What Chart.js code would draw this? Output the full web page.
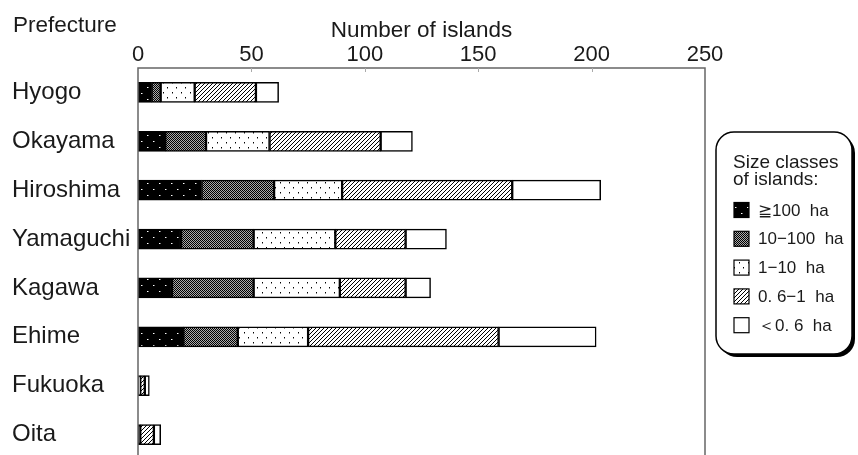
<!DOCTYPE html>
<html>
<head>
<meta charset="utf-8">
<script src="https://cdn.jsdelivr.net/npm/chart.js@4/dist/chart.umd.min.js"></script>
<style>
    html, body { margin: 0; padding: 0; background: #fff; overflow: hidden; }
    #wrap { position: relative; width: 858px; height: 459px; }
</style>
</head>
<body>
<div id="wrap"><canvas id="islands-chart"></canvas></div>
<script>
// Number of islands by prefecture and size class
const prefectures = ['Hyogo', 'Okayama', 'Hiroshima', 'Yamaguchi', 'Kagawa', 'Ehime', 'Fukuoka', 'Oita'];
const over100ha = [6, 12, 28, 19, 15, 20, 0, 1];
const from10to100ha = [4, 18, 32, 32, 36, 24, 0, 0];
const from1to10ha = [15, 28, 30, 36, 38, 31, 1, 0];
const from06to1ha = [27, 49, 75, 31, 29, 84, 2, 6];
const under06ha = [10, 14, 39, 18, 11, 43, 2, 3];
const sizeLabels = ['≧100  ha', '10−100  ha', '1−10  ha', '0. 6−1  ha', '＜0. 6  ha'];
const xTicks = [0, 50, 100, 150, 200, 250];

const FONT = '"Liberation Sans", Arial, sans-serif';
const TEXT = '#1a1a1a';

// Fill patterns for the size classes (black/white print style)
function makePattern(kind) {
    const c = document.createElement('canvas');
    const g = c.getContext('2d');
    if (kind === 'black') {
        c.width = 12; c.height = 12;
        g.fillStyle = '#000'; g.fillRect(0, 0, 12, 12);
        g.fillStyle = '#fff';
        g.fillRect(3, 3, 1, 1);
        g.fillRect(9, 9, 1, 1);
        g.fillStyle = '#777';
        g.fillRect(4, 3, 1, 1);
        g.fillRect(10, 9, 1, 1);
    } else if (kind === 'gray') {
        c.width = 2; c.height = 2;
        g.fillStyle = '#aaa'; g.fillRect(0, 0, 2, 2);
        g.fillStyle = '#000';
        g.fillRect(0, 0, 1, 1);
        g.fillRect(1, 1, 1, 1);
    } else if (kind === 'dots') {
        c.width = 9; c.height = 10;
        g.fillStyle = '#fff'; g.fillRect(0, 0, 9, 10);
        g.fillStyle = '#000';
        g.fillRect(1, 2, 1, 1);
        g.fillRect(5, 7, 1, 1);
        g.fillStyle = '#888';
        g.fillRect(1, 3, 1, 1);
        g.fillRect(5, 8, 1, 1);
    } else if (kind === 'hatch') {
        c.width = 4; c.height = 4;
        g.fillStyle = '#fff'; g.fillRect(0, 0, 4, 4);
        g.fillStyle = '#000';
        for (let i = 0; i < 4; i++) g.fillRect(i, 3 - i, 1, 1);
    } else {
        c.width = 1; c.height = 1;
        g.fillStyle = '#fff'; g.fillRect(0, 0, 1, 1);
    }
    return g.createPattern(c, 'repeat');
}

const seriesValues = [over100ha, from10to100ha, from1to10ha, from06to1ha, under06ha];
const patternKinds = ['black', 'gray', 'dots', 'hatch', 'white'];

const datasets = seriesValues.map((values, i) => ({
    label: sizeLabels[i],
    data: values,
    backgroundColor: makePattern(patternKinds[i]),
    borderColor: '#000',
    borderWidth: 1.5,
    borderSkipped: false,
    barThickness: 20
}));

// Plot frame, inner tick marks and the "Prefecture" heading
const framePlugin = {
    id: 'frame',
    afterDraw(chart) {
        const { ctx, chartArea: a } = chart;
        const x = chart.scales.x;
        ctx.save();
        ctx.strokeStyle = '#666';
        ctx.lineWidth = 1.5;
        ctx.beginPath();
        ctx.moveTo(a.left, a.bottom + 5);
        ctx.lineTo(a.left, a.top);
        ctx.lineTo(a.right, a.top);
        ctx.lineTo(a.right, a.bottom + 5);
        ctx.stroke();
        ctx.strokeStyle = '#aaa';
        ctx.lineWidth = 1;
        xTicks.slice(1, -1).forEach(v => {
            const px = Math.round(x.getPixelForValue(v)) + 0.5;
            ctx.beginPath();
            ctx.moveTo(px, a.top);
            ctx.lineTo(px, a.top + 4);
            ctx.stroke();
        });
        ctx.fillStyle = TEXT;
        ctx.font = '22.5px ' + FONT;
        ctx.textAlign = 'left';
        ctx.textBaseline = 'middle';
        ctx.fillText('Prefecture', 13, 26);
        ctx.restore();
    }
};

// Rounded legend box at the right
const legendPlugin = {
    id: 'sizeLegend',
    afterDraw(chart) {
        const ctx = chart.ctx;
        const bx = 716, by = 132, bw = 136, bh = 222, r = 18;
        ctx.save();
        ctx.fillStyle = '#000';
        ctx.beginPath();
        ctx.roundRect(bx + 3, by + 3, bw, bh, r);
        ctx.fill();
        ctx.fillStyle = '#fff';
        ctx.strokeStyle = '#000';
        ctx.lineWidth = 1.5;
        ctx.beginPath();
        ctx.roundRect(bx, by, bw, bh, r);
        ctx.fill();
        ctx.stroke();

        ctx.fillStyle = TEXT;
        ctx.font = '19px ' + FONT;
        ctx.textAlign = 'left';
        ctx.textBaseline = 'alphabetic';
        ctx.fillText('Size classes', 733, 168);
        ctx.fillText('of islands:', 733, 185);

        ctx.font = '17px ' + FONT;
        ctx.textBaseline = 'middle';
        chart.data.datasets.forEach((ds, i) => {
            const cy = 210 + i * 28.8;
            ctx.fillStyle = ds.backgroundColor;
            ctx.fillRect(734, cy - 7.5, 15, 15);
            ctx.strokeStyle = '#000';
            ctx.lineWidth = 1.2;
            ctx.strokeRect(734, cy - 7.5, 15, 15);
            ctx.fillStyle = TEXT;
            ctx.fillText(ds.label, 758, cy + 1);
        });
        ctx.restore();
    }
};

new Chart(document.getElementById('islands-chart'), {
    type: 'bar',
    data: { labels: prefectures, datasets },
    options: {
        indexAxis: 'y',
        responsive: true,
        maintainAspectRatio: false,
        animation: false,
        devicePixelRatio: 1,
        layout: { padding: { left: 12, right: 153, top: 0, bottom: 0 } },
        plugins: {
            legend: { display: false },
            tooltip: { enabled: false }
        },
        scales: {
            x: {
                position: 'top',
                stacked: true,
                min: 0,
                max: 250,
                afterBuildTicks: scale => {
                    scale.ticks = xTicks.map(v => ({ value: v }));
                },
                afterFit: scale => { scale.height = 68; },
                grid: { display: false, drawTicks: false },
                border: { display: false },
                ticks: { padding: 0, color: TEXT, font: { size: 22, family: FONT } },
                title: {
                    display: true,
                    text: 'Number of islands',
                    color: TEXT,
                    font: { size: 22.5, family: FONT },
                    padding: { top: 17, bottom: 0 }
                }
            },
            y: {
                stacked: true,
                afterFit: scale => {
                    scale.width = 126;
                    // no extra room for label overhang: bottom is cut off anyway
                    scale.paddingTop = 0;
                    scale.paddingBottom = 0;
                },
                grid: { display: false, drawTicks: false },
                border: { display: false },
                ticks: { crossAlign: 'far', color: TEXT, font: { size: 24, family: FONT } }
            }
        }
    },
    plugins: [framePlugin, legendPlugin]
});
</script>
</body>
</html>
